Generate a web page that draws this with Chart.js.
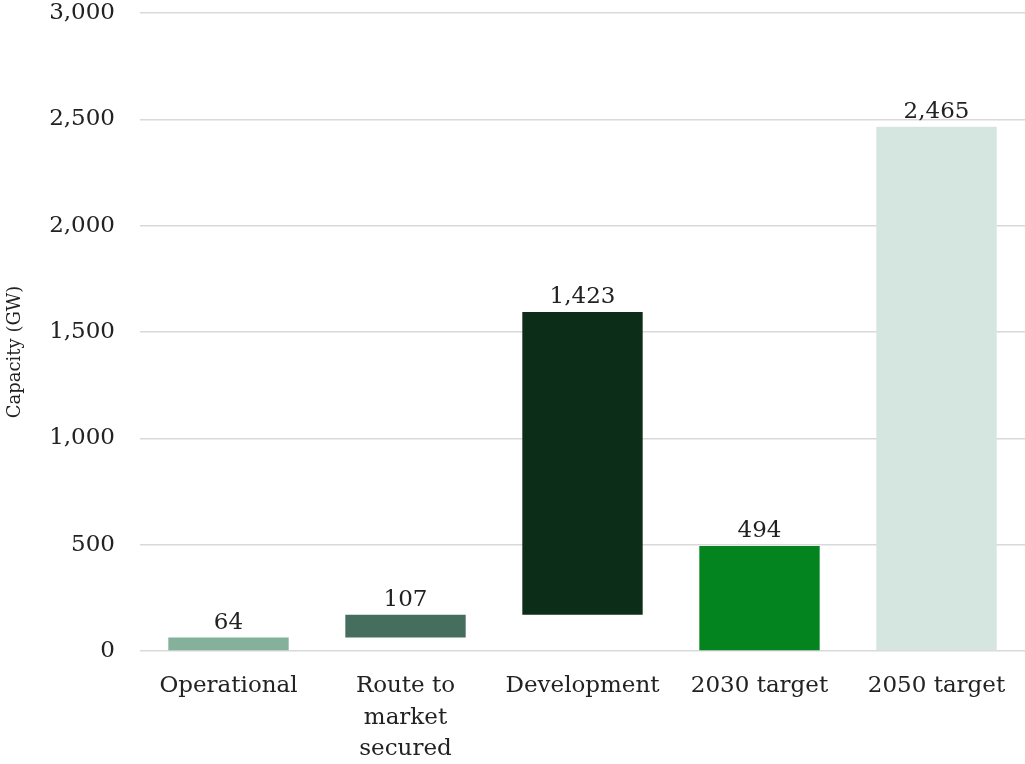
<!DOCTYPE html>
<html>
<head>
<meta charset="utf-8">
<script src="https://cdn.jsdelivr.net/npm/chart.js@4/dist/chart.umd.min.js"></script>
<style>
html,body{margin:0;padding:0;background:#fff;}
#wrap{width:1025px;height:764px;position:relative;}
</style>
</head>
<body>
<div id="wrap"><canvas id="c"></canvas></div>
<script>
const categories = [["Operational"], ["Route to", "market", "secured"], ["Development"], ["2030 target"], ["2050 target"]];
const values = [64, 107, 1423, 494, 2465];
const isRunning = [true, true, true, false, false]; // waterfall steps vs totals
const barColors = ["#84b09c", "#456e5e", "#0c2e18", "#03841e", "#d5e5e0"];
const yTicks = [0, 500, 1000, 1500, 2000, 2500, 3000];
const yTitle = "Capacity (GW)";

// Build floating ranges from the values
const ranges = [];
let run = 0;
values.forEach((v, i) => {
  if (isRunning[i]) { ranges.push([run, run + v]); run += v; }
  else { ranges.push([0, v]); }
});

const FONT = "DejaVu Serif";
const TXT = "#222222";

const labelPlugin = {
  id: 'barLabels',
  afterDatasetsDraw(chart) {
    const ctx = chart.ctx;
    const meta = chart.getDatasetMeta(0);
    ctx.save();
    ctx.font = "23px '" + FONT + "'";
    ctx.fillStyle = TXT;
    ctx.textAlign = 'center';
    ctx.textBaseline = 'bottom';
    meta.data.forEach((bar, i) => {
      const top = Math.min(bar.y, bar.base);
      ctx.fillText(values[i].toLocaleString('en-US'), bar.x, top - 3);
    });
    // y-axis title
    const ca = chart.chartArea;
    ctx.font = "18px '" + FONT + "'";
    ctx.textBaseline = 'middle';
    ctx.translate(15, (ca.top + ca.bottom) / 2 + 20);
    ctx.rotate(-Math.PI / 2);
    ctx.fillText(yTitle, 0, 0);
    ctx.restore();
  }
};

new Chart(document.getElementById('c'), {
  type: 'bar',
  data: {
    labels: categories,
    datasets: [{
      data: ranges,
      backgroundColor: barColors,
      borderWidth: 0,
      barPercentage: 0.68,
      categoryPercentage: 1.0
    }]
  },
  options: {
    responsive: true,
    maintainAspectRatio: false,
    animation: false,
    layout: { padding: { top: 13, right: 0, left: 0, bottom: 0 } },
    plugins: { legend: { display: false }, tooltip: { enabled: false } },
    scales: {
      x: {
        grid: { display: false, drawTicks: false },
        border: { display: false },
        ticks: { color: TXT, font: { family: FONT, size: 23, lineHeight: 1.35 }, padding: 20, maxRotation: 0, autoSkip: false },
        afterFit(scale) { scale.height = 113; scale.paddingLeft = 0; scale.paddingRight = 0; }
      },
      y: {
        min: 0, max: 3000,
        afterBuildTicks(scale) { scale.ticks = yTicks.map(v => ({ value: v })); },
        grid: { color: '#d9d9d9', lineWidth: 1.5, drawTicks: false },
        border: { display: false },
        ticks: {
          color: TXT, font: { family: FONT, size: 23 }, padding: 25,
          callback: v => v.toLocaleString('en-US')
        },
        title: { display: false },
        afterFit(scale) { scale.width = 140; scale.paddingTop = 0; scale.paddingBottom = 0; }
      }
    }
  },
  plugins: [labelPlugin]
});
</script>
</body>
</html>
